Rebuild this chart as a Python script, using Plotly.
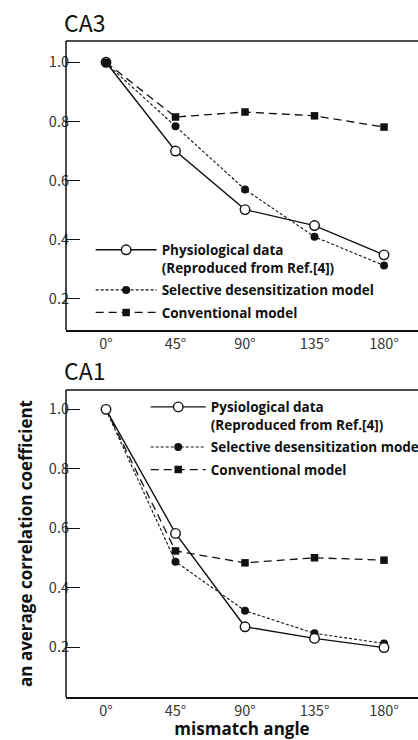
import plotly.graph_objects as go

# ---------------- data ----------------
angles = [0, 45, 90, 135, 180]
angle_labels = ["0°", "45°", "90°", "135°", "180°"]
y_tick_vals = [0.2, 0.4, 0.6, 0.8, 1.0]
y_tick_labels = ["0.2", "0.4", "0.6", "0.8", "1.0"]

ca3_physiological = [1.0, 0.700, 0.502, 0.448, 0.349]
ca3_selective = [0.997, 0.784, 0.570, 0.410, 0.313]
ca3_conventional = [1.0, 0.815, 0.832, 0.819, 0.781]

ca1_physiological = [1.0, 0.583, 0.269, 0.230, 0.199]
ca1_selective = [0.998, 0.488, 0.323, 0.247, 0.213]
ca1_conventional = [1.0, 0.524, 0.484, 0.501, 0.493]

names_ca3 = ["Physiological data<br>(Reproduced from Ref.[4])",
             "Selective desensitization model", "Conventional model"]
names_ca1 = ["Pysiological data<br>(Reproduced from Ref.[4])",
             "Selective desensitization model", "Conventional model"]

INK = "#111111"
CJK = "Noto Sans CJK JP, Noto Sans, sans-serif"
TICK_FONT = dict(family=CJK, size=14.5, color="#333333")
TITLE_FONT = dict(family=CJK, size=23, color=INK)
BOLD_FONT = "Open Sans, Lato, sans-serif"

styles = {
    "phys": dict(line=dict(color=INK, width=1.4),
                 marker=dict(symbol="circle", size=9.5, color="white", line=dict(color=INK, width=1.4))),
    "sel": dict(line=dict(color=INK, width=1.1, dash="3px,2px"),
                marker=dict(symbol="circle", size=8, color=INK, line=dict(width=0))),
    "conv": dict(line=dict(color=INK, width=1.3, dash="8px,5px"),
                 marker=dict(symbol="square", size=7.5, color=INK, line=dict(width=0))),
}

fig = go.Figure()

# CA3 (top) - drawn phys, sel, conv
for key, ys, nm, rank in [("phys", ca3_physiological, names_ca3[0], 1),
                          ("sel", ca3_selective, names_ca3[1], 2),
                          ("conv", ca3_conventional, names_ca3[2], 3)]:
    fig.add_trace(go.Scatter(x=angles, y=ys, mode="lines+markers", name=nm,
                             xaxis="x", yaxis="y", legend="legend", legendrank=rank,
                             legendgroup="ca3" + key, **styles[key]))

# CA1 (bottom) - drawn conv, sel, phys (phys on top)
for key, ys, nm, rank in [("conv", ca1_conventional, names_ca1[2], 3),
                          ("sel", ca1_selective, names_ca1[1], 2),
                          ("phys", ca1_physiological, names_ca1[0], 1)]:
    fig.add_trace(go.Scatter(x=angles, y=ys, mode="lines+markers", name=nm,
                             xaxis="x2", yaxis="y2", legend="legend2", legendrank=rank,
                             legendgroup="ca1" + key, **styles[key]))

xcommon = dict(range=[-25.9, 202], tickvals=angles, ticktext=angle_labels, ticks="",
               showgrid=False, zeroline=False, tickfont=TICK_FONT, showline=True,
               linecolor=INK, mirror=False)
ycommon = dict(tickvals=y_tick_vals, ticktext=y_tick_labels, ticks="inside", ticklen=14,
               tickwidth=1.3, tickcolor=INK, showgrid=False, zeroline=False,
               tickfont=TICK_FONT, showline=False, mirror=False, ticklabelstandoff=-4)

legend_common = dict(xanchor="left", yanchor="top", bgcolor="rgba(0,0,0,0)",
                     font=dict(family=BOLD_FONT, size=13.5, weight="bold", color=INK),
                     valign="top", traceorder="grouped", tracegroupgap=2)

# panel frame: top border running to the page edge and left border (not data)
frame = []
for xd, yd in [("x domain", "y domain"), ("x2 domain", "y2 domain")]:
    frame.append(dict(type="line", xref="paper", yref=yd, x0=0, x1=1.05, y0=1, y1=1,
                      line=dict(color=INK, width=1.3)))
    frame.append(dict(type="line", xref=xd, yref=yd, x0=0, x1=0, y0=0, y1=1,
                      line=dict(color=INK, width=1.5)))

fig.update_layout(
    width=418, height=740,
    margin=dict(l=66, r=0, t=41, b=43, autoexpand=False),
    paper_bgcolor="white", plot_bgcolor="white",
    xaxis=dict(domain=[0, 1], anchor="y", linewidth=1.5, **xcommon),
    yaxis=dict(domain=[0.5595, 1.0], anchor="x", range=[0.095, 1.072], **ycommon),
    xaxis2=dict(domain=[0, 1], anchor="y2", linewidth=1.8,
                title=dict(text="mismatch angle", standoff=18,
                           font=dict(family=BOLD_FONT, size=17, weight="bold", color=INK)),
                **xcommon),
    yaxis2=dict(domain=[0.0, 0.468], anchor="x2", range=[0.033, 1.065],
                title=dict(text="an average correlation coefficient", standoff=11,
                           font=dict(family=BOLD_FONT, size=17, weight="bold", color=INK)),
                **ycommon),
    legend=dict(x=0.07, y=0.705, itemwidth=61, **legend_common),
    legend2=dict(x=0.2265, y=0.4655, itemwidth=55, **legend_common),
    showlegend=True,
    shapes=frame,
    annotations=[
        dict(text="CA3", xref="paper", yref="paper", x=-0.012, y=1.029,
             xanchor="left", yanchor="middle", showarrow=False, font=TITLE_FONT),
        dict(text="CA1", xref="paper", yref="paper", x=-0.012, y=0.4988,
             xanchor="left", yanchor="middle", showarrow=False, font=TITLE_FONT),
    ],
)

fig.write_html("out.html")
